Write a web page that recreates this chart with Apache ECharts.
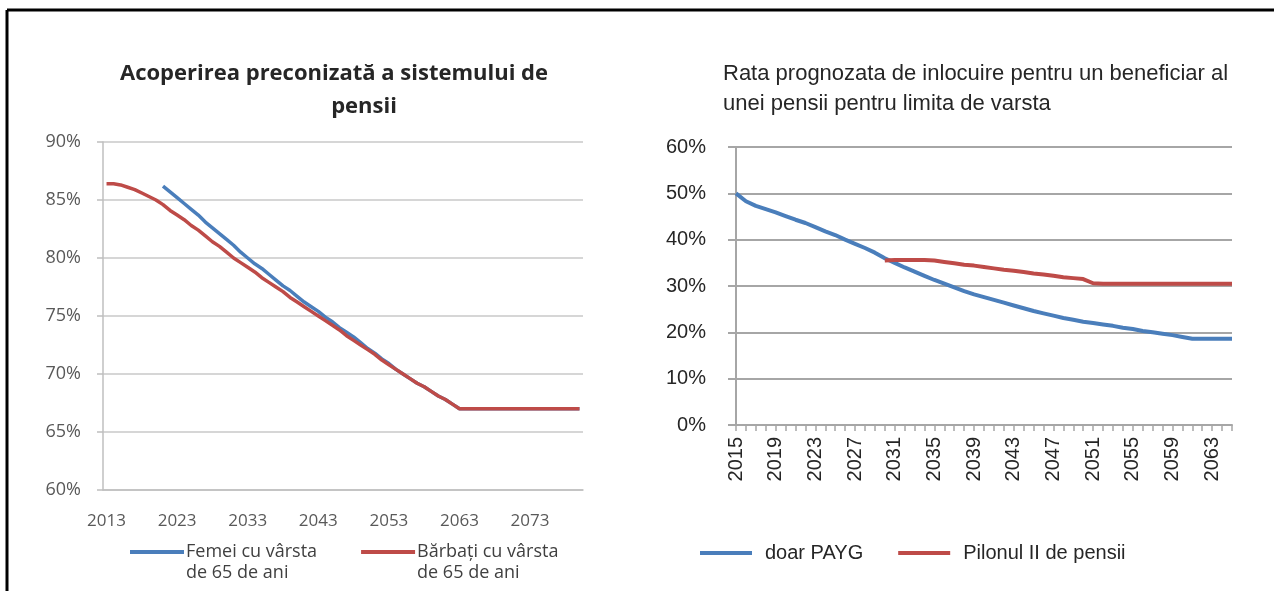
<!DOCTYPE html>
<html>
<head>
<meta charset="utf-8">
<script src="https://cdn.jsdelivr.net/npm/echarts@6/dist/echarts.min.js"></script>
<style>
  html, body { margin: 0; padding: 0; background: #fff; }
  #main { width: 1274px; height: 591px; }
</style>
</head>
<body>
<div id="main"></div>
<script>
// ani pentru graficul din stanga (2013 - 2080) si din dreapta (2015 - 2065)
var aniStanga = [];
for (var a = 2013; a <= 2080; a++) aniStanga.push(String(a));
var aniDreapta = [];
for (var b = 2015; b <= 2065; b++) aniDreapta.push(String(b));

// Acoperirea preconizata (%) - femei, incepe din 2021
var femei = [null, null, null, null, null, null, null, null,
  86.2, 85.7, 85.2, 84.7, 84.2, 83.7, 83.1, 82.6, 82.1, 81.6,
  81.1, 80.5, 80.0, 79.5, 79.1, 78.6, 78.1, 77.6, 77.2, 76.7,
  76.2, 75.8, 75.4, 74.9, 74.5, 74.0, 73.6, 73.2, 72.7, 72.2,
  71.8, 71.3, 70.9, 70.4, 70.0, 69.6, 69.2, 68.9, 68.5, 68.1,
  67.8, 67.4, 67.0, 67.0, 67.0, 67.0, 67.0, 67.0, 67.0, 67.0,
  67.0, 67.0, 67.0, 67.0, 67.0, 67.0, 67.0, 67.0, 67.0, 67.0];

// Acoperirea preconizata (%) - barbati
var barbati = [86.4, 86.4, 86.3, 86.1, 85.9, 85.6, 85.3, 85.0,
  84.6, 84.1, 83.7, 83.3, 82.8, 82.4, 81.9, 81.4, 81.0, 80.5,
  80.0, 79.6, 79.2, 78.8, 78.3, 77.9, 77.5, 77.1, 76.6, 76.2,
  75.8, 75.4, 75.0, 74.6, 74.2, 73.8, 73.3, 72.9, 72.5, 72.1,
  71.7, 71.2, 70.8, 70.4, 70.0, 69.6, 69.2, 68.9, 68.5, 68.1,
  67.8, 67.4, 67.0, 67.0, 67.0, 67.0, 67.0, 67.0, 67.0, 67.0,
  67.0, 67.0, 67.0, 67.0, 67.0, 67.0, 67.0, 67.0, 67.0, 67.0];

// Rata de inlocuire (%) - doar PAYG
var doarPAYG = [50.0, 48.3, 47.3, 46.6, 45.9, 45.1, 44.3, 43.6, 42.7, 41.8,
  41.0, 40.0, 39.1, 38.2, 37.2, 36.0, 35.0, 34.0, 33.1, 32.2,
  31.3, 30.5, 29.7, 28.9, 28.2, 27.6, 27.0, 26.4, 25.8, 25.2,
  24.6, 24.1, 23.6, 23.1, 22.7, 22.3, 22.0, 21.7, 21.4, 21.0,
  20.7, 20.3, 20.0, 19.7, 19.4, 19.0, 18.6, 18.6, 18.6, 18.6, 18.6];

// Rata de inlocuire (%) - cu Pilonul II, incepe din 2030
var pilonII = [null, null, null, null, null, null, null, null, null, null,
  null, null, null, null, null, 35.5, 35.6, 35.6, 35.6, 35.6,
  35.5, 35.2, 34.9, 34.6, 34.4, 34.1, 33.8, 33.5, 33.3, 33.0,
  32.7, 32.5, 32.2, 31.9, 31.7, 31.5, 30.6, 30.5, 30.5, 30.5,
  30.5, 30.5, 30.5, 30.5, 30.5, 30.5, 30.5, 30.5, 30.5, 30.5, 30.5];

var ticksStanga = [60, 90, 5];   // min, max, pas
var ticksDreapta = [0, 60, 10];

var ALBASTRU = '#4A7EBB';
var ROSU = '#BE4B48';
var FONT_ST = '"Open Sans", Lato, sans-serif';
var FONT_DR = '"Liberation Sans", Arial, sans-serif';

var titluStanga = { fontFamily: FONT_ST, fontSize: 22, fontWeight: 'bold', color: '#262626', lineHeight: 33 };

var myChart = echarts.init(document.getElementById('main'));

myChart.setOption({
    animation: false,
    backgroundColor: '#fff',
    title: [{
        text: 'Acoperirea preconizată a sistemului de',
        left: 334, top: 57, padding: 0,
        textAlign: 'center',
        textStyle: titluStanga
    }, {
        text: 'pensii',
        left: 364, top: 90, padding: 0,
        textAlign: 'center',
        textStyle: titluStanga
    }, {
        text: 'Rata prognozata de inlocuire pentru un beneficiar al\nunei pensii pentru limita de varsta',
        left: 723, top: 59, padding: 0,
        textStyle: {
            fontFamily: FONT_DR, fontSize: 22, fontWeight: 'normal',
            color: '#262626', lineHeight: 30
        }
    }],
    legend: [{
        data: ['Femei cu vârsta de 65 de ani', 'Bărbați cu vârsta de 65 de ani'],
        left: 130,
        top: 541,
        padding: 0,
        itemWidth: 54,
        itemHeight: 25,
        itemGap: 44,
        icon: 'path://M0,0h54v4h-54z M0,24h0.01v0.01h-0.01z',
        formatter: function (n) { return n.replace(' de 65', '\nde 65'); },
        textStyle: { fontFamily: FONT_ST, fontSize: 18, color: '#404040', lineHeight: 21, padding: [0, 0, 0, -3] }
    }, {
        data: ['doar PAYG', 'Pilonul II de pensii'],
        left: 700,
        top: 543,
        padding: 0,
        itemWidth: 52,
        itemHeight: 4,
        itemGap: 35,
        icon: 'rect',
        textStyle: { fontFamily: FONT_DR, fontSize: 20, color: '#262626', padding: [0, 0, 0, 8] }
    }],
    grid: [
        { left: 103, right: 691, top: 142, bottom: 101 },
        { left: 736, right: 42, top: 147, bottom: 166 }
    ],
    xAxis: [{
        gridIndex: 0,
        type: 'category',
        data: aniStanga,
        boundaryGap: true,
        axisLine: { lineStyle: { color: '#BFBFBF', width: 1.5 } },
        axisTick: { interval: 9, length: 6, lineStyle: { color: '#BFBFBF', width: 1.5 } },
        axisLabel: { interval: 9, margin: 23, fontFamily: FONT_ST, fontSize: 17, color: '#595959' },
        splitLine: { show: false }
    }, {
        gridIndex: 1,
        type: 'category',
        data: aniDreapta,
        boundaryGap: false,
        axisLine: { lineStyle: { color: '#A6A6A6', width: 2 } },
        axisTick: { interval: 0, length: 6, lineStyle: { color: '#A6A6A6', width: 1.5 } },
        axisLabel: { interval: 3, rotate: 90, margin: 12, fontFamily: FONT_DR, fontSize: 20, color: '#262626' },
        splitLine: { show: false }
    }],
    yAxis: [{
        gridIndex: 0,
        type: 'value',
        min: ticksStanga[0], max: ticksStanga[1], interval: ticksStanga[2],
        axisLine: { show: true, lineStyle: { color: '#BFBFBF', width: 1.5 } },
        axisTick: { show: true, length: 6, lineStyle: { color: '#BFBFBF', width: 1.5 } },
        axisLabel: { formatter: '{value}%', margin: 22, fontFamily: FONT_ST, fontSize: 18, color: '#595959' },
        splitLine: { lineStyle: { color: '#C8C8C8', width: 1.5 } }
    }, {
        gridIndex: 1,
        type: 'value',
        min: ticksDreapta[0], max: ticksDreapta[1], interval: ticksDreapta[2],
        axisLine: { show: true, lineStyle: { color: '#A6A6A6', width: 2 } },
        axisTick: { show: true, length: 8, lineStyle: { color: '#A6A6A6', width: 2 } },
        axisLabel: { formatter: '{value}%', margin: 30, fontFamily: FONT_DR, fontSize: 20, color: '#262626' },
        splitLine: { lineStyle: { color: '#A6A6A6', width: 2 } }
    }],
    series: [{
        name: 'Femei cu vârsta de 65 de ani',
        type: 'line', xAxisIndex: 0, yAxisIndex: 0,
        data: femei, showSymbol: false, symbol: 'none',
        lineStyle: { color: ALBASTRU, width: 3.5 }, itemStyle: { color: ALBASTRU }
    }, {
        name: 'Bărbați cu vârsta de 65 de ani',
        type: 'line', xAxisIndex: 0, yAxisIndex: 0,
        data: barbati, showSymbol: false, symbol: 'none',
        lineStyle: { color: ROSU, width: 3.5 }, itemStyle: { color: ROSU }
    }, {
        name: 'doar PAYG',
        type: 'line', xAxisIndex: 1, yAxisIndex: 1,
        data: doarPAYG, showSymbol: false, symbol: 'none',
        lineStyle: { color: ALBASTRU, width: 4 }, itemStyle: { color: ALBASTRU }
    }, {
        name: 'Pilonul II de pensii',
        type: 'line', xAxisIndex: 1, yAxisIndex: 1,
        data: pilonII, showSymbol: false, symbol: 'none',
        lineStyle: { color: ROSU, width: 4 }, itemStyle: { color: ROSU }
    }],
    // chenarul negru din jurul figurii
    graphic: [{
        type: 'line', silent: true,
        shape: { x1: 7, y1: 10, x2: 1274, y2: 10 },
        style: { stroke: '#000', lineWidth: 3 }
    }, {
        type: 'line', silent: true,
        shape: { x1: 7, y1: 10, x2: 7, y2: 591 },
        style: { stroke: '#000', lineWidth: 3 }
    }]
});
</script>
</body>
</html>
